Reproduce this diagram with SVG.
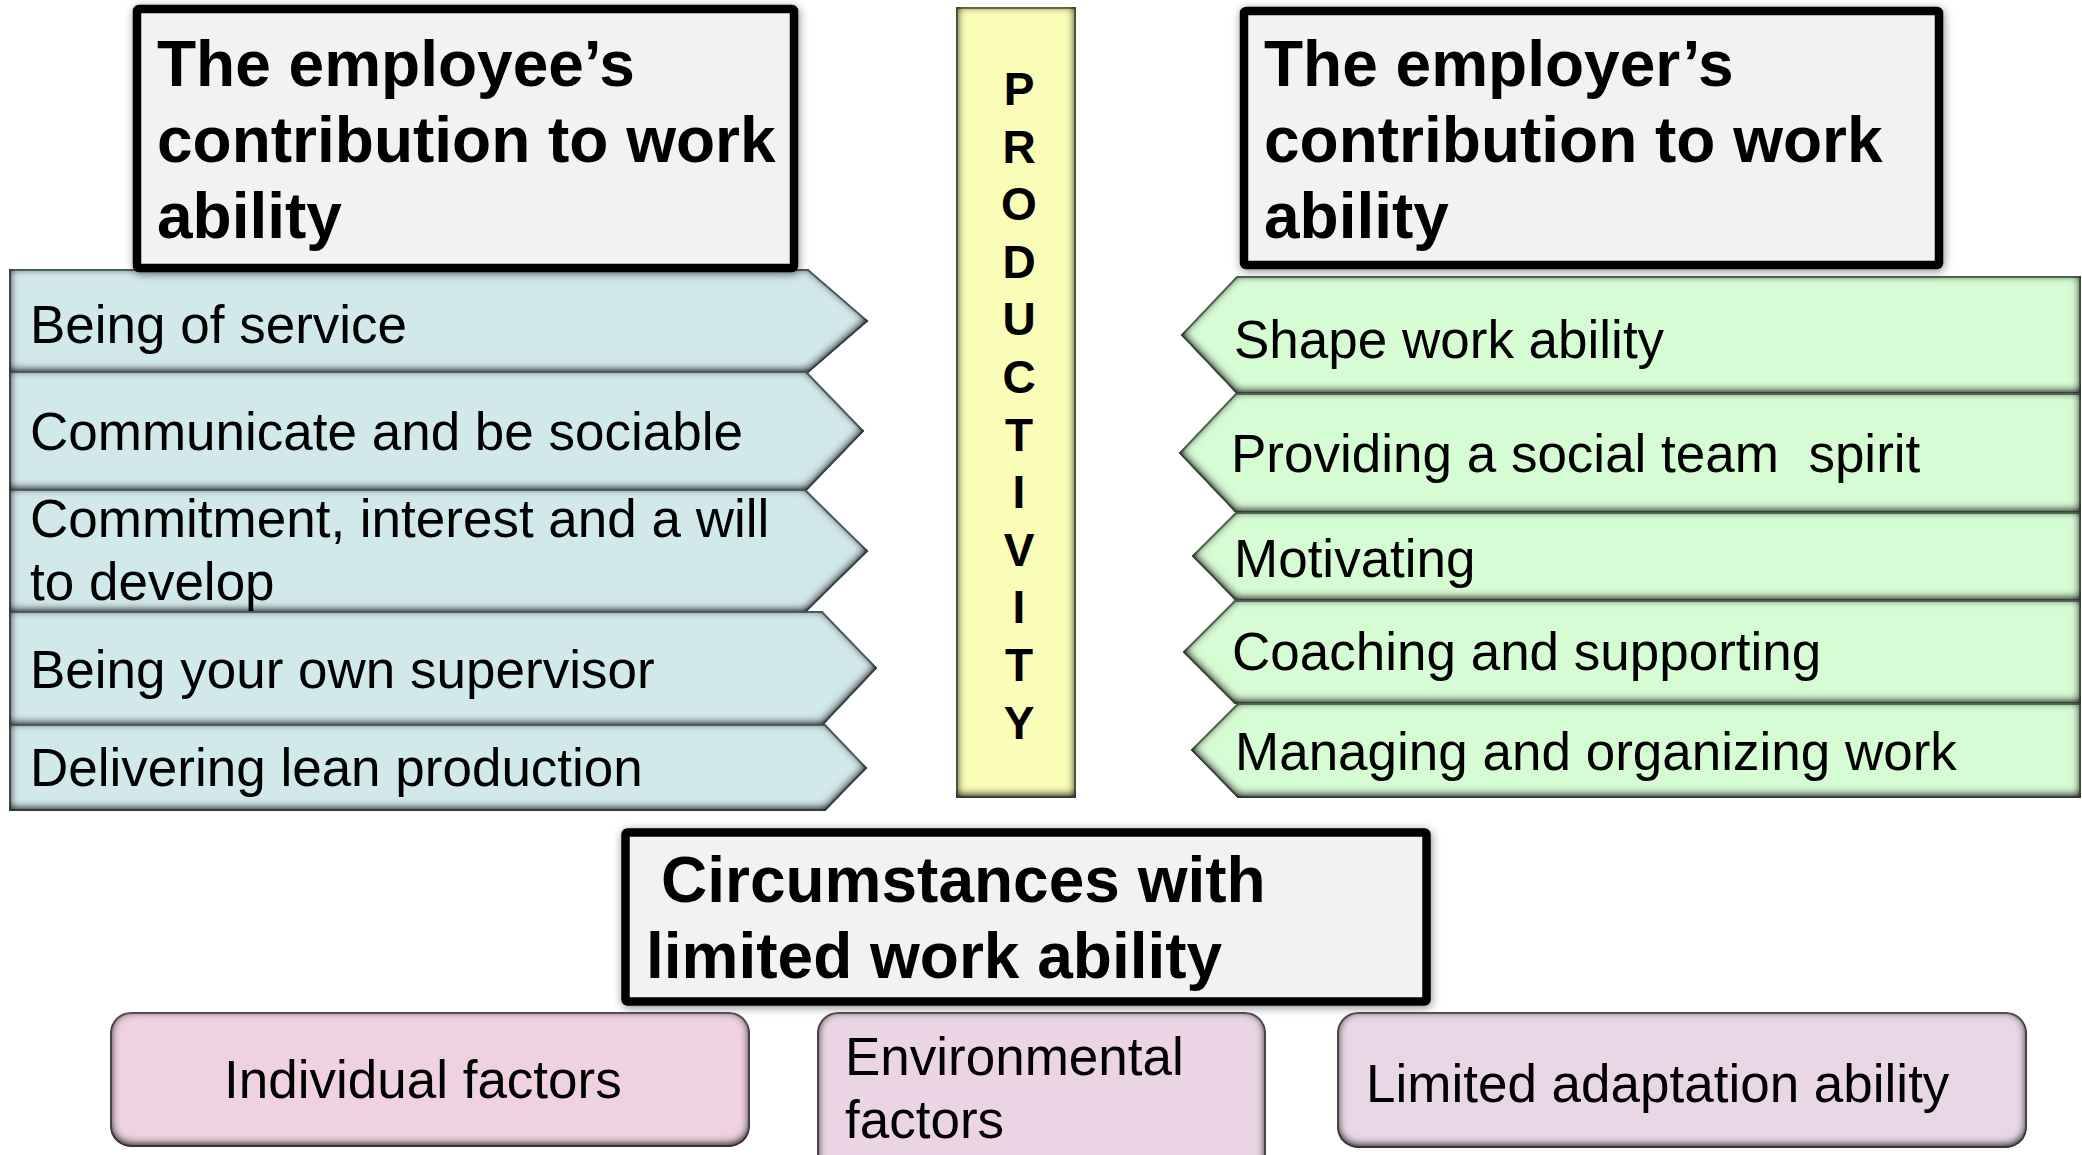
<svg xmlns="http://www.w3.org/2000/svg" width="2082" height="1155" viewBox="0 0 2082 1155">
  <defs>
    <style>
      .body { font-family: "Liberation Sans", Arial, sans-serif; font-size: 53px; fill: #000; }
      .head { font-family: "Liberation Sans", Arial, sans-serif; font-size: 64px; font-weight: bold; fill: #000; }
      .vert { font-family: "Liberation Sans", Arial, sans-serif; font-size: 46px; font-weight: bold; fill: #000; text-anchor: middle; }
      .blue { fill: #d2e9ec; stroke: #5f7a7d; stroke-width: 2; }
      .green { fill: #d6fcd4; stroke: #628a60; stroke-width: 2; }
      .pink1 { fill: #efd1e0; stroke: #75606e; stroke-width: 2; }
      .pink2 { fill: #ebd5e5; stroke: #75606e; stroke-width: 2; }
      .pink3 { fill: #e9d7e6; stroke: #75606e; stroke-width: 2; }
      .bar { fill: #fafdb7; stroke: #85875c; stroke-width: 2; }
      .title { fill: #f2f2f2; stroke: #000; stroke-width: 8.5; }
    </style>
    <!-- soft darkening along the inner edges of the shapes -->
    <filter id="inset" x="-5%" y="-10%" width="110%" height="120%" color-interpolation-filters="sRGB">
      <feGaussianBlur in="SourceAlpha" stdDeviation="5" result="blur"/>
      <feOffset in="blur" dy="-2" result="blurOff"/>
      <feComposite in="SourceAlpha" in2="blurOff" operator="arithmetic" k1="0" k2="1.6" k3="-1.6" k4="0" result="inner"/>
      <feFlood flood-color="#2a2a2a" flood-opacity="0.85"/>
      <feComposite in2="inner" operator="in" result="shade"/>
      <feMerge>
        <feMergeNode in="SourceGraphic"/>
        <feMergeNode in="shade"/>
      </feMerge>
    </filter>
    <!-- grey halo around the framed title boxes -->
    <filter id="halo" x="-10%" y="-15%" width="120%" height="130%">
      <feGaussianBlur in="SourceAlpha" stdDeviation="5"/>
      <feOffset dx="1" dy="2" result="sh"/>
      <feFlood flood-color="#000" flood-opacity="0.45"/>
      <feComposite in2="sh" operator="in" result="shadow"/>
      <feMerge>
        <feMergeNode in="shadow"/>
        <feMergeNode in="SourceGraphic"/>
      </feMerge>
    </filter>
  </defs>

  <rect width="2082" height="1155" fill="#fff"/>

  <g id="connectors"/>

  <!-- employee side: arrows pointing right -->
  <g id="employee-items">
    <g id="being-of-service">
      <polygon class="blue" filter="url(#inset)" points="10,270 808,270 867,321 808,372 10,372"/>
      <text class="body" x="30" y="343">Being of service</text>
    </g>
    <g id="communicate">
      <polygon class="blue" filter="url(#inset)" points="10,372 806,372 863,431 806,490 10,490"/>
      <text class="body" x="30" y="450">Communicate and be sociable</text>
    </g>
    <g id="commitment">
      <polygon class="blue" filter="url(#inset)" points="10,490 805,490 867,551 805,612 10,612"/>
      <text class="body" x="30" y="537">Commitment, interest and a will</text>
      <text class="body" x="30" y="600">to develop</text>
    </g>
    <g id="own-supervisor">
      <polygon class="blue" filter="url(#inset)" points="10,612 822,612 876,668 822,725 10,725"/>
      <text class="body" x="30" y="688">Being your own supervisor</text>
    </g>
    <g id="lean-production">
      <polygon class="blue" filter="url(#inset)" points="10,725 825,725 866,768 825,810 10,810"/>
      <text class="body" x="30" y="786">Delivering lean production</text>
    </g>
  </g>

  <g id="employee-title">
    <rect class="title" filter="url(#halo)" x="137" y="9" width="657" height="259" rx="2"/>
    <text class="head" x="157" y="86">The employee’s</text>
    <text class="head" x="157" y="162">contribution to work</text>
    <text class="head" x="157" y="238">ability</text>
  </g>

  <!-- central productivity column -->
  <g id="productivity">
    <rect class="bar" filter="url(#inset)" x="957" y="8" width="118" height="789"/>
    <text class="vert" x="1019" y="105">P</text>
    <text class="vert" x="1019" y="163">R</text>
    <text class="vert" x="1019" y="220">O</text>
    <text class="vert" x="1019" y="278">D</text>
    <text class="vert" x="1019" y="335">U</text>
    <text class="vert" x="1019" y="393">C</text>
    <text class="vert" x="1019" y="451">T</text>
    <text class="vert" x="1019" y="508">I</text>
    <text class="vert" x="1019" y="566">V</text>
    <text class="vert" x="1019" y="623">I</text>
    <text class="vert" x="1019" y="681">T</text>
    <text class="vert" x="1019" y="739">Y</text>
  </g>

  <!-- employer side: arrows pointing left -->
  <g id="employer-items">
    <g id="shape-work-ability">
      <polygon class="green" filter="url(#inset)" points="2080,277 1237,277 1182,335 1237,393 2080,393"/>
      <text class="body" x="1234" y="358">Shape work ability</text>
    </g>
    <g id="team-spirit">
      <polygon class="green" filter="url(#inset)" points="2080,394 1236,394 1180,453 1236,512 2080,512"/>
      <text class="body" x="1231" y="472" xml:space="preserve">Providing a social team  spirit</text>
    </g>
    <g id="motivating">
      <polygon class="green" filter="url(#inset)" points="2080,513 1236,513 1193,556 1236,600 2080,600"/>
      <text class="body" x="1234" y="577">Motivating</text>
    </g>
    <g id="coaching">
      <polygon class="green" filter="url(#inset)" points="2080,601 1235,601 1184,652 1235,703 2080,703"/>
      <text class="body" x="1232" y="670">Coaching and supporting</text>
    </g>
    <g id="managing">
      <polygon class="green" filter="url(#inset)" points="2080,704 1238,704 1192,750 1238,797 2080,797"/>
      <text class="body" x="1235" y="770">Managing and organizing work</text>
    </g>
  </g>

  <g id="employer-title">
    <rect class="title" filter="url(#halo)" x="1244" y="11" width="695" height="254" rx="2"/>
    <text class="head" x="1264" y="86">The employer’s</text>
    <text class="head" x="1264" y="162">contribution to work</text>
    <text class="head" x="1264" y="238">ability</text>
  </g>

  <!-- limiting circumstances -->
  <g id="circumstances-title">
    <rect class="title" filter="url(#halo)" x="625.5" y="832.5" width="801" height="169" rx="2"/>
    <text class="head" x="661" y="902">Circumstances with</text>
    <text class="head" x="646" y="978">limited work ability</text>
  </g>

  <g id="individual-factors">
    <rect class="pink1" filter="url(#inset)" x="111" y="1013" width="638" height="133" rx="20"/>
    <text class="body" x="224" y="1098">Individual factors</text>
  </g>

  <g id="environmental-factors">
    <rect class="pink2" filter="url(#inset)" x="818" y="1013" width="447" height="175" rx="20"/>
    <text class="body" x="845" y="1075">Environmental</text>
    <text class="body" x="845" y="1138">factors</text>
  </g>

  <g id="limited-adaptation">
    <rect class="pink3" filter="url(#inset)" x="1338" y="1013" width="688" height="134" rx="20"/>
    <text class="body" x="1366" y="1102">Limited adaptation ability</text>
  </g>
</svg>
